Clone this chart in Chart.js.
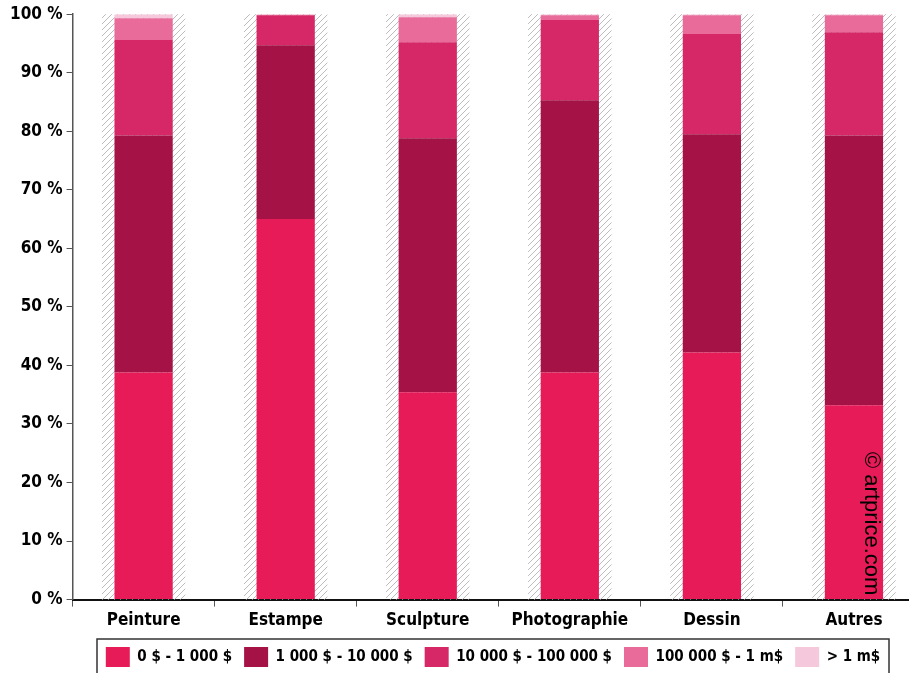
<!DOCTYPE html>
<html>
<head>
<meta charset="utf-8">
<script src="https://cdn.jsdelivr.net/npm/chart.js@4.4.1/dist/chart.umd.min.js"></script>
<style>
  html, body { margin: 0; padding: 0; background: #fff; overflow: hidden; }
  #wrap { width: 925px; height: 677px; position: relative; }
</style>
</head>
<body>
<div id="wrap"><canvas id="mixChart"></canvas></div>
<script>
// price bands per medium, share of lots (%)
const categories = ['Peinture', 'Estampe', 'Sculpture', 'Photographie', 'Dessin', 'Autres'];
const bandLabels = ['0 $ - 1 000 $', '1 000 $ - 10 000 $', '10 000 $ - 100 000 $', '100 000 $ - 1 m$', '> 1 m$'];
const band0 = [38.8, 65.0, 35.4, 38.8, 42.2, 33.2];
const band1 = [40.5, 29.7, 43.4, 46.5, 37.3, 46.1];
const band2 = [16.3, 5.1, 16.4, 13.7, 17.1, 17.6];
const band3 = [3.7, 0.1, 4.3, 0.8, 3.2, 2.9];
const band4 = [0.7, 0.1, 0.5, 0.2, 0.2, 0.2];
const bandColors = ['#e61b58', '#a51346', '#d62866', '#e86b9a', '#f6c8dc'];

const FONT = '"DejaVu Sans Condensed", "Liberation Sans Narrow", sans-serif';

// hatch pattern for the band behind each bar
function makeHatch() {
  const c = document.createElement('canvas');
  c.width = 6; c.height = 6;
  const g = c.getContext('2d');
  g.strokeStyle = '#bcbcbc';
  g.lineWidth = 1;
  g.beginPath();
  g.moveTo(0, 6); g.lineTo(6, 0);
  g.moveTo(-1, 1); g.lineTo(1, -1);
  g.moveTo(5, 7); g.lineTo(7, 5);
  g.stroke();
  return c;
}
const hatch = makeHatch();

const hatchPlugin = {
  id: 'hatchBands',
  afterLayout(chart) {
    // legend sits a bit right of the canvas centre
    const lg = chart.legend;
    const dx = 493 - (lg.left + lg.right) / 2;
    lg.left += dx; lg.right += dx;
  },
  beforeDatasetsDraw(chart) {
    const ctx = chart.ctx;
    const x = chart.scales.x, a = chart.chartArea;
    const w = (x.getPixelForValue(1) - x.getPixelForValue(0)) * 0.587;
    ctx.save();
    ctx.fillStyle = ctx.createPattern(hatch, 'repeat');
    categories.forEach((c, i) => {
      const cx = x.getPixelForValue(i);
      ctx.fillRect(cx - w / 2, a.top, w, a.bottom - a.top);
    });
    ctx.restore();
  },
  afterDraw(chart) {
    const ctx = chart.ctx;
    const lg = chart.legend;
    ctx.save();
    // box round the legend
    ctx.strokeStyle = '#333';
    ctx.lineWidth = 1.5;
    ctx.strokeRect(97, lg.top + 4, 792, 42);
    // watermark
    ctx.translate(871, 452);
    ctx.rotate(Math.PI / 2);
    ctx.fillStyle = '#000';
    ctx.font = '22px "Liberation Sans", sans-serif';
    ctx.textBaseline = 'middle';
    ctx.fillText('\u00a9 artprice.com', 0, 0);
    ctx.restore();
  }
};

const bands = [band0, band1, band2, band3, band4];
new Chart(document.getElementById('mixChart'), {
  type: 'bar',
  data: {
    labels: categories,
    datasets: bands.map((d, i) => ({
      label: bandLabels[i],
      data: d,
      backgroundColor: bandColors[i],
      borderWidth: 0,
      barPercentage: 0.41,
      categoryPercentage: 1
    }))
  },
  options: {
    responsive: true,
    maintainAspectRatio: false,
    animation: false,
    layout: { padding: { top: 6, left: 6, right: 0, bottom: 0 } },
    plugins: {
      tooltip: { enabled: false },
      legend: {
        position: 'bottom',
        labels: {
          boxWidth: 24,
          boxHeight: 20,
          padding: 12,
          color: '#000',
          font: { family: FONT, size: 15, weight: 'bold' }
        }
      }
    },
    scales: {
      x: {
        stacked: true,
        grid: { drawOnChartArea: false, tickLength: 7, tickColor: '#555', offset: true },
        border: { color: '#111', width: 2 },
        ticks: { color: '#000', font: { family: FONT, size: 17, weight: 'bold' }, padding: 4 }
      },
      y: {
        stacked: true,
        min: 0,
        max: 100,
        grid: { drawOnChartArea: false, tickLength: 6, tickColor: '#555' },
        border: { color: '#555', width: 1.5 },
        ticks: {
          stepSize: 10,
          color: '#000',
          padding: 4,
          font: { family: FONT, size: 17, weight: 'bold' },
          callback: v => v + ' %'
        }
      }
    }
  },
  plugins: [hatchPlugin]
});
</script>
</body>
</html>
